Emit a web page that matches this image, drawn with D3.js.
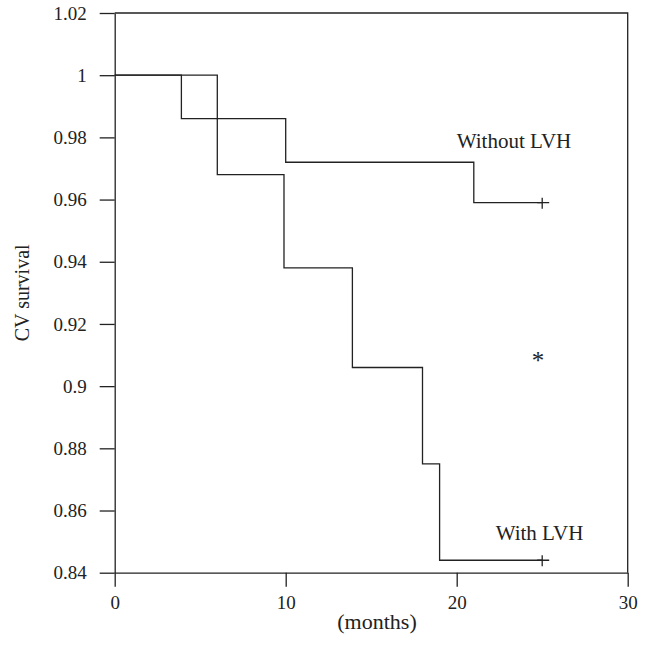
<!DOCTYPE html>
<html lang="en">
<head>
    <meta charset="UTF-8">
    <title>CV survival</title>
    <script src="https://d3js.org/d3.v7.min.js"></script>
    <style>
        body {
            margin: 0;
            background-color: #fff;
        }
        svg text {
            font-family: "Liberation Serif", "DejaVu Serif", serif;
            fill: #222;
        }
        .axis path, .axis line {
            stroke: #222;
            stroke-width: 1.3;
        }
        .axis text {
            font-size: 19px;
        }
        .km-line {
            fill: none;
            stroke: #222;
            stroke-width: 1.3;
        }
    </style>
</head>
<body>
    <div id="chart"></div>
    <script>
        // Kaplan-Meier step data (months, survival)
        const withoutTimes = [0, 6, 10, 21, 25];
        const withoutSurv = [1, 0.986, 0.972, 0.959, 0.959];
        const withTimes = [0, 3.9, 6, 9.9, 13.9, 18, 19, 25];
        const withSurv = [1, 0.986, 0.968, 0.938, 0.906, 0.875, 0.844, 0.844];

        const xTicks = [0, 10, 20, 30];
        const yTicks = [0.84, 0.86, 0.88, 0.9, 0.92, 0.94, 0.96, 0.98, 1, 1.02];

        const width = 649, height = 646;
        const plotLeft = 114.7, plotRight = 627.7, plotTop = 13, plotBottom = 572.7;

        const x = d3.scaleLinear().domain([0, 30]).range([plotLeft, plotRight]);
        const y = d3.scaleLinear().domain([0.84, 1.02]).range([plotBottom, plotTop]);

        const svg = d3.select('#chart').append('svg')
            .attr('width', width)
            .attr('height', height);

        // frame (top & right sides)
        svg.append('path')
            .attr('d', `M${plotLeft},${plotTop}H${plotRight}V${plotBottom}`)
            .attr('fill', 'none')
            .attr('stroke', '#222')
            .attr('stroke-width', 1.3);

        svg.append('g')
            .attr('class', 'axis')
            .attr('transform', `translate(${plotLeft},0)`)
            .call(d3.axisLeft(y)
                .tickValues(yTicks)
                .tickFormat(d => String(+d.toFixed(2)))
                .tickSize(15)
                .tickSizeOuter(0)
                .tickPadding(13));

        svg.append('g')
            .attr('class', 'axis')
            .attr('transform', `translate(0,${plotBottom})`)
            .call(d3.axisBottom(x)
                .tickValues(xTicks)
                .tickSize(14)
                .tickSizeOuter(0)
                .tickPadding(9));

        // axis titles
        svg.append('text')
            .attr('x', 377)
            .attr('y', 629)
            .attr('text-anchor', 'middle')
            .style('font-size', '22px')
            .text('(months)');

        svg.append('text')
            .attr('transform', `translate(29,${(plotTop + plotBottom) / 2}) rotate(-90)`)
            .attr('text-anchor', 'middle')
            .style('font-size', '20px')
            .text('CV survival');

        const line = d3.line()
            .x(d => x(d[0]))
            .y(d => y(d[1]))
            .curve(d3.curveStepAfter);

        const series = [
            { times: withoutTimes, surv: withoutSurv },
            { times: withTimes, surv: withSurv }
        ];

        series.forEach(s => {
            const pts = s.times.map((t, i) => [t, s.surv[i]]);
            svg.append('path')
                .attr('class', 'km-line')
                .attr('d', line(pts));

            // censor mark at the last time
            const last = pts[pts.length - 1];
            const cx = x(last[0]), cy = y(last[1]);
            svg.append('path')
                .attr('class', 'km-line')
                .attr('d', `M${cx - 5},${cy}H${cx + 7}M${cx},${cy - 5}V${cy + 6}`);
        });

        // curve labels
        svg.append('text')
            .attr('x', 514)
            .attr('y', 148)
            .attr('text-anchor', 'middle')
            .style('font-size', '21px')
            .text('Without LVH');

        svg.append('text')
            .attr('x', 539.5)
            .attr('y', 540)
            .attr('text-anchor', 'middle')
            .style('font-size', '21px')
            .text('With LVH');

        svg.append('text')
            .attr('x', 538)
            .attr('y', 369)
            .attr('text-anchor', 'middle')
            .style('font-size', '25px')
            .text('*');
    </script>
</body>
</html>
